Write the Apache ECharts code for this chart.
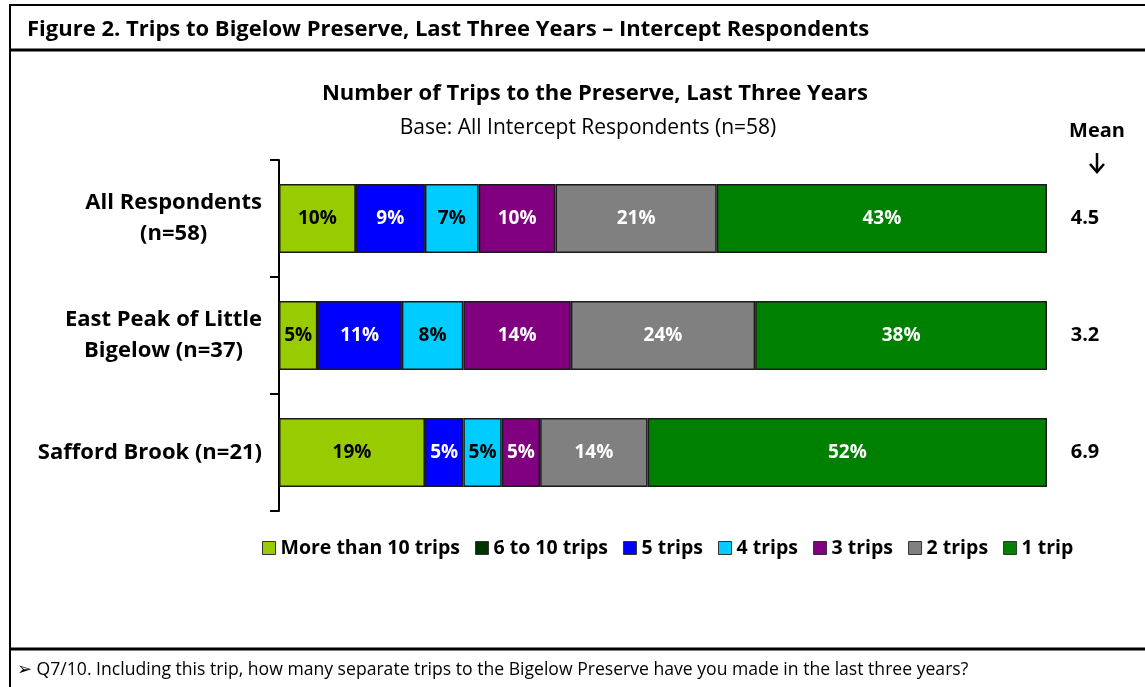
<!DOCTYPE html>
<html>
<head>
<meta charset="utf-8">
<script src="https://cdn.jsdelivr.net/npm/echarts@6/dist/echarts.min.js"></script>
<style>
  html, body { margin: 0; padding: 0; background: #fff; }
  #chart { width: 1145px; height: 687px; }
</style>
</head>
<body>
<div id="chart"></div>
<script>
// Respondent groups (top to bottom)
const groups = ['All Respondents\n(n=58)', 'East Peak of Little\nBigelow (n=37)', 'Safford Brook (n=21)'];
// Mean number of trips per group
const means = ['4.5', '3.2', '6.9'];

// Share of respondents (%) by number of trips
const moreThan10 = [10, 5, 19];
const sixTo10 = [0, 0, 0];
const five = [9, 11, 5];
const four = [7, 8, 5];
const three = [10, 14, 5];
const two = [21, 24, 14];
const one = [43, 38, 52];

const seriesDefs = [
  { name: 'More than 10 trips', data: moreThan10, color: '#99CC00', text: '#000' },
  { name: '6 to 10 trips', data: sixTo10, color: '#003300', text: '#fff' },
  { name: '5 trips', data: five, color: '#0000FF', text: '#fff' },
  { name: '4 trips', data: four, color: '#00CCFF', text: '#000' },
  { name: '3 trips', data: three, color: '#800080', text: '#fff' },
  { name: '2 trips', data: two, color: '#808080', text: '#fff' },
  { name: '1 trip', data: one, color: '#008000', text: '#fff' }
];

const FONT = '"Open Sans", Lato, sans-serif';

const chart = echarts.init(document.getElementById('chart'), null, { renderer: 'canvas' });

chart.setOption({
  backgroundColor: '#fff',
  animation: false,
  textStyle: { fontFamily: FONT },
  title: [
    {
      text: 'Number of Trips to the Preserve, Last Three Years',
      left: 590, top: 78, textAlign: 'center',
      textStyle: { fontFamily: FONT, fontSize: 22, fontWeight: 'bold', color: '#000' }
    },
    {
      text: 'Base: All Intercept Respondents (n=58)',
      left: 583, top: 113, textAlign: 'center',
      textStyle: { fontFamily: FONT, fontSize: 21, fontWeight: 'normal', color: '#000' }
    }
  ],
  legend: {
    bottom: 124,
    left: 257,
    itemWidth: 13,
    itemHeight: 13,
    itemGap: 15,
    icon: 'rect',
    itemStyle: { borderColor: '#333', borderWidth: 1 },
    textStyle: { fontFamily: FONT, fontSize: 19.5, fontWeight: 'bold', color: '#000', padding: [0, 0, 0, 0] },
    data: seriesDefs.map(s => s.name)
  },
  grid: { left: 279, right: 98, top: 160, bottom: 176, containLabel: false },
  xAxis: {
    type: 'value', min: 0, max: 100,
    show: false
  },
  yAxis: [
    {
      type: 'category', data: groups, inverse: true,
      axisLine: { show: true, lineStyle: { color: '#000', width: 2 } },
      axisTick: { show: true, length: 9, lineStyle: { color: '#000', width: 2 } },
      axisLabel: {
        margin: 17, align: 'right',
        lineHeight: 31,
        // each line centred within the right-aligned label block
        formatter: v => v.split('\n').map(l => '{c|' + l + '}').join('\n'),
        rich: {
          c: { align: 'center', fontFamily: FONT, fontSize: 22, fontWeight: 'bold', color: '#000', lineHeight: 31 }
        }
      }
    },
    {
      type: 'category', data: means, inverse: true, position: 'right',
      axisLine: { show: false }, axisTick: { show: false },
      axisLabel: { margin: 38, align: 'center', fontFamily: FONT, fontSize: 20, fontWeight: 'bold', color: '#000' }
    }
  ],
  series: seriesDefs.map(s => ({
    name: s.name,
    type: 'bar',
    stack: 'trips',
    yAxisIndex: 0,
    barWidth: '59%',
    data: s.data,
    itemStyle: { color: s.color, borderColor: '#1a1a1a', borderWidth: 1.5 },
    label: {
      show: true, position: 'inside',
      color: s.text, fontFamily: FONT, fontSize: 19, fontWeight: 'bold',
      formatter: p => (p.value > 0 ? p.value + '%' : '')
    }
  })),
  graphic: [
    // outer frame and title band
    { type: 'line', shape: { x1: 10, y1: 5, x2: 1145, y2: 5 }, style: { stroke: '#000', lineWidth: 2 } },
    { type: 'line', shape: { x1: 10, y1: 4, x2: 10, y2: 687 }, style: { stroke: '#000', lineWidth: 2 } },
    { type: 'line', shape: { x1: 10, y1: 50, x2: 1145, y2: 50 }, style: { stroke: '#000', lineWidth: 3 } },
    { type: 'line', shape: { x1: 10, y1: 649, x2: 1145, y2: 649 }, style: { stroke: '#000', lineWidth: 3 } },
    {
      type: 'text', x: 27, y: 30,
      style: { text: 'Figure 2. Trips to Bigelow Preserve, Last Three Years \u2013 Intercept Respondents', font: 'bold 22px ' + FONT, fill: '#000', verticalAlign: 'middle' }
    },
    {
      type: 'text', x: 17, y: 670,
      style: { text: '\u27A2 Q7/10. Including this trip, how many separate trips to the Bigelow Preserve have you made in the last three years?', font: '17.6px ' + FONT, fill: '#000', verticalAlign: 'middle' }
    },
    // mean column header with down arrow
    {
      type: 'text', x: 1097, y: 131,
      style: { text: 'Mean', font: 'bold 20px ' + FONT, fill: '#000', align: 'center', verticalAlign: 'middle' }
    },
    { type: 'line', shape: { x1: 1097, y1: 153, x2: 1097, y2: 172 }, style: { stroke: '#000', lineWidth: 2.5 } },
    { type: 'polyline', shape: { points: [[1090, 164], [1097, 172], [1104, 164]] }, style: { stroke: '#000', lineWidth: 2.5, fill: null } }
  ]
});
</script>
</body>
</html>
